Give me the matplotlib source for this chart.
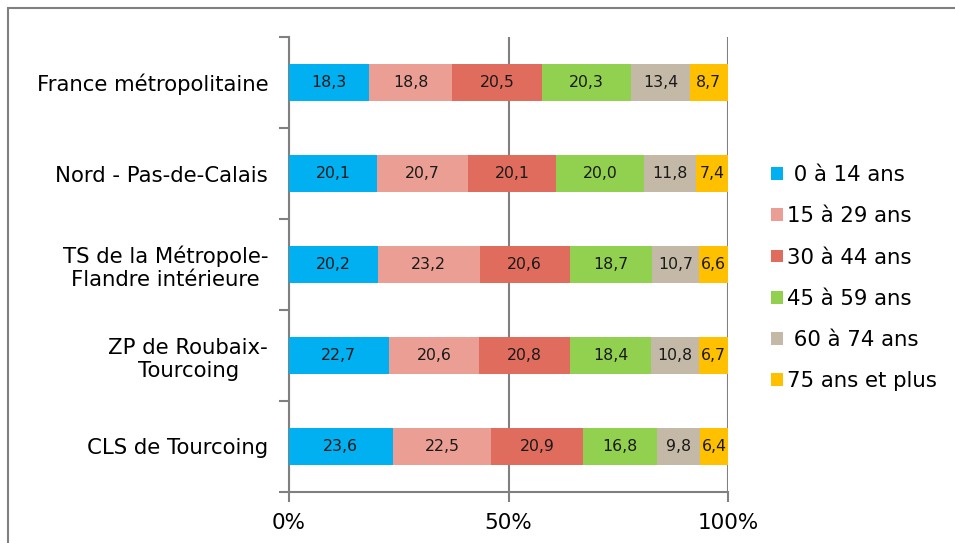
import numpy as np
import matplotlib.pyplot as plt
from matplotlib.patches import Rectangle

categories = ['France métropolitaine', 'Nord - Pas-de-Calais',
              'TS de la Métropole-\nFlandre intérieure',
              'ZP de Roubaix-\nTourcoing', 'CLS de Tourcoing']
age_groups = [' 0 à 14 ans', '15 à 29 ans', '30 à 44 ans',
              '45 à 59 ans', ' 60 à 74 ans', '75 ans et plus']
a0_14 = [18.3, 20.1, 20.2, 22.7, 23.6]
a15_29 = [18.8, 20.7, 23.2, 20.6, 22.5]
a30_44 = [20.5, 20.1, 20.6, 20.8, 20.9]
a45_59 = [20.3, 20.0, 18.7, 18.4, 16.8]
a60_74 = [13.4, 11.8, 10.7, 10.8, 9.8]
a75 = [8.7, 7.4, 6.6, 6.7, 6.4]
colors = ['#00B0F0', '#EB9F94', '#E06C5E', '#92D050', '#C4B9A6', '#FFC000']

series = [a0_14, a15_29, a30_44, a45_59, a60_74, a75]

fig = plt.figure(figsize=(9.55, 5.43), dpi=100)
ax = fig.add_axes([289/955, 1 - 492/543, (728-289)/955, (492-37)/543])

y = np.arange(len(categories))
left = np.zeros(len(categories))
for vals, lab, col in zip(series, age_groups, colors):
    vals = np.array(vals)
    ax.barh(y, vals, left=left, height=0.4, color=col, label=lab, zorder=3)
    for yi, l, v in zip(y, left, vals):
        ax.text(l + v / 2, yi, ('%.1f' % v).replace('.', ','),
                ha='center', va='center', fontsize=11.3, color='#1a1a1a', zorder=4)
    left = left + vals

ax.set_xlim(0, 100)
ax.set_ylim(4.5, -0.5)
ax.set_xticks([0, 50, 100])
ax.set_xticklabels(['0%', '50%', '100%'], fontsize=15.5)
ax.set_yticks(np.arange(-0.5, 5, 1))
ax.set_yticklabels([])
ax.set_yticks(y, minor=True)
ax.set_yticklabels(categories, minor=True, fontsize=15.3, ha='right',
                   multialignment='center')
ax.tick_params(axis='y', which='minor', length=0, pad=15)
ax.tick_params(axis='y', which='major', length=7, color='#808080', width=1.5)
ax.tick_params(axis='x', length=7, color='#808080', width=1.5, pad=8)
ax.xaxis.grid(True, color='#808080', linewidth=1.5, zorder=1)
for s in ['top', 'right']:
    ax.spines[s].set_visible(False)
for s in ['left', 'bottom']:
    ax.spines[s].set_color('#808080')
    ax.spines[s].set_linewidth(1.5)

ax.legend(loc='center left', bbox_to_anchor=(1.098, 0.47), frameon=False,
          fontsize=15.3, handlelength=0.55, handleheight=0.55, handletextpad=0.2,
          labelspacing=1.0, borderaxespad=0, borderpad=0)

fig.patches.append(Rectangle((8/955, -0.1), 1.2, 1.1 - 8/543, transform=fig.transFigure,
                             fill=False, edgecolor='#808080', linewidth=1.5))

plt.savefig('out.png', dpi=100)
